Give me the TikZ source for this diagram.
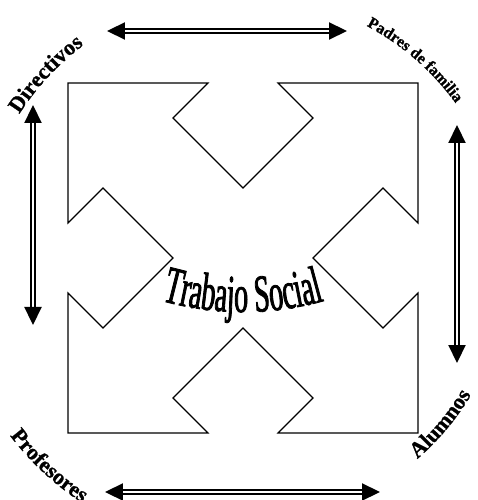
\documentclass[tikz,border=0pt]{standalone}
\usepackage{fontspec}
\setmainfont{Liberation Serif}
\newfontfamily\narrowserif[FakeStretch=0.53,FakeBold=1.5]{Liberation Serif}
\newfontfamily\heavyserif[BoldFeatures={FakeBold=1}]{Liberation Serif}
\usetikzlibrary{arrows.meta,decorations.text}

\newcommand{\cornerfont}{\heavyserif\bfseries\fontsize{22}{22}\selectfont}
\newcommand{\padresfont}{\heavyserif\bfseries\fontsize{16}{16}\selectfont}
\newcommand{\midfont}{\narrowserif\fontsize{53}{53}\selectfont}

\begin{document}
\begin{tikzpicture}[x=1pt,y=1pt,
  cross/.style={draw=black,line width=1.2pt,line join=miter},
  dbl/.style={{Triangle[length=18pt,width=17pt]}-{Triangle[length=18pt,width=17pt]},
    draw=black,double=white,line width=2.2pt,double distance=1.2pt},
  curved/.style={decorate,decoration={text along path,text align=center,text={#1}}}]
\useasboundingbox (-243,-242) rectangle (234,258);
% four arrows pointing to the corners
\draw[cross] (-175,175) -- (-35,175) -- (-70,140) -- (0,70) -- (70,140) -- (35,175)
  -- (175,175) -- (175,35) -- (140,70) -- (70,0) -- (140,-70) -- (175,-35)
  -- (175,-175) -- (35,-175) -- (70,-140) -- (0,-70) -- (-70,-140) -- (-35,-175)
  -- (-175,-175) -- (-175,-35) -- (-140,-70) -- (-70,0) -- (-140,70) -- (-175,35) -- cycle;
% double arrows round the cross
\coordinate (topL) at (-136,227);
\coordinate (topR) at (104,227);
\coordinate (botL) at (-138,-234);
\coordinate (botR) at (137,-234);
\coordinate (lftT) at (-210,153);
\coordinate (lftB) at (-210,-67);
\coordinate (rgtT) at (214,133);
\coordinate (rgtB) at (214,-105);
\draw[dbl] (topL) -- (topR);
\draw[dbl] (botL) -- (botR);
\draw[dbl] (lftT) -- (lftB);
\draw[dbl] (rgtT) -- (rgtB);
% curved labels
\path[curved=|\cornerfont|Directivos] (160:266) arc[start angle=160,end angle=114,radius=266];
\path[curved=|\padresfont|Padres de familia] (74:263) arc[start angle=74,end angle=24,radius=263];
\path[curved=|\cornerfont|Profesores] (203:293) arc[start angle=203,end angle=251,radius=293];
\path[curved=|\cornerfont|Alumnos] (-63:266) arc[start angle=-63,end angle=-17,radius=266];
\path[curved=|\midfont|Trabajo Social] ([shift={(0,246)}]240:300) arc[start angle=240,end angle=300,radius=300];
\end{tikzpicture}
\end{document}
